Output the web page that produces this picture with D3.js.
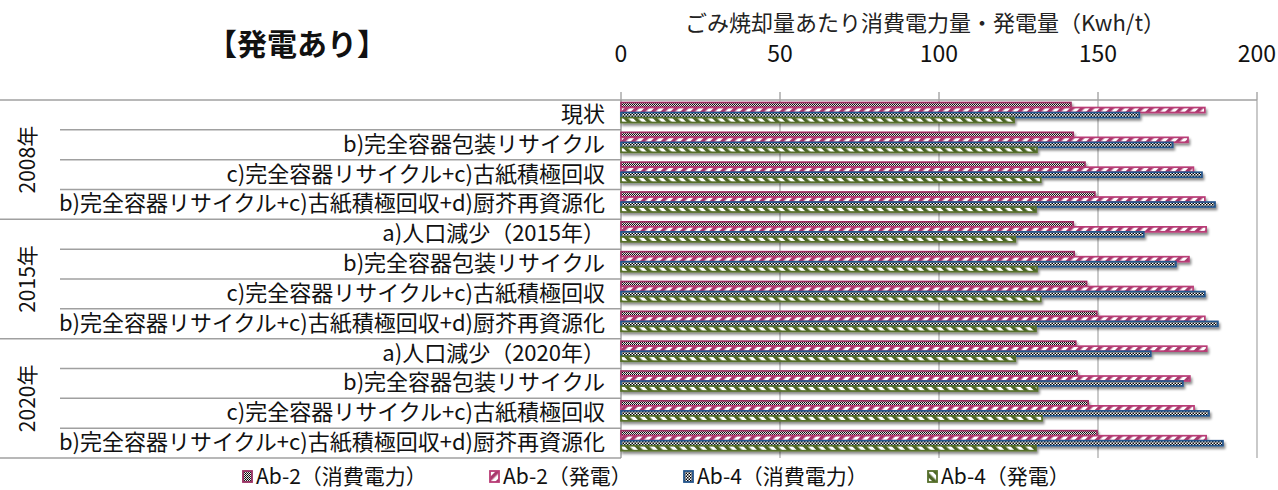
<!DOCTYPE html>
<html>
<head>
<meta charset="utf-8">
<script src="https://cdnjs.cloudflare.com/ajax/libs/d3/7.8.5/d3.min.js"></script>
<style>
  html, body { margin: 0; padding: 0; background: #fff; }
  svg { display: block; font-family: "Noto Sans CJK JP", "Noto Sans", sans-serif; }
</style>
</head>
<body>
<svg id="chart" width="1278" height="490"></svg>
<script>
// ---- data ----
const categories = [
  "現状",
  "b)完全容器包装リサイクル",
  "c)完全容器リサイクル+c)古紙積極回収",
  "b)完全容器リサイクル+c)古紙積極回収+d)厨芥再資源化",
  "a)人口減少（2015年）",
  "b)完全容器包装リサイクル",
  "c)完全容器リサイクル+c)古紙積極回収",
  "b)完全容器リサイクル+c)古紙積極回収+d)厨芥再資源化",
  "a)人口減少（2020年）",
  "b)完全容器包装リサイクル",
  "c)完全容器リサイクル+c)古紙積極回収",
  "b)完全容器リサイクル+c)古紙積極回収+d)厨芥再資源化"
];
const years = ["2008年", "2015年", "2020年"];
const seriesNames = ["Ab-2（消費電力）", "Ab-2（発電）", "Ab-4（消費電力）", "Ab-4（発電）"];
const ab2Consumption = [141.5, 142.2, 145.9, 149.0, 142.2, 142.5, 146.4, 149.6, 143.0, 143.4, 146.9, 149.7];
const ab2Generation  = [183.6, 178.3, 180.0, 183.6, 184.0, 178.6, 179.9, 183.6, 184.2, 178.9, 180.2, 184.0];
const ab4Consumption = [163.0, 173.5, 182.7, 186.8, 164.4, 174.5, 183.6, 187.7, 166.6, 176.7, 184.9, 189.3];
const ab4Generation  = [123.6, 130.8, 132.0, 130.5, 124.0, 130.8, 132.0, 130.5, 124.0, 131.0, 132.4, 130.5];
const tickValues = [0, 50, 100, 150, 200];
const axisTitle = "ごみ焼却量あたり消費電力量・発電量（Kwh/t）";
const chartTitle = "【発電あり】";

const seriesValues = [ab2Consumption, ab2Generation, ab4Consumption, ab4Generation];

// ---- layout ----
const svg = d3.select("#chart");
const plotLeft = 621, plotRight = 1257, plotTop = 100, plotBottom = 458;

const x = d3.scaleLinear().domain([0, 200]).range([plotLeft, plotRight]);
const y = d3.scaleBand().domain(d3.range(categories.length)).range([plotTop, plotBottom]);
const ySub = d3.scaleBand().domain(d3.range(seriesNames.length)).range([2.5, 22.5]).paddingInner(0.02);

// ---- patterns ----
const defs = svg.append("defs");
const stroke = ["#9a2f62", "#b93c76", "#24558c", "#566f2b"];

// fine dot pattern (Ab-2 consumption)
const p0 = defs.append("pattern").attr("id", "pat0").attr("patternUnits", "userSpaceOnUse")
  .attr("width", 2).attr("height", 2);
p0.append("rect").attr("width", 2).attr("height", 2).attr("fill", "#e8e8e8");
p0.append("rect").attr("width", 1).attr("height", 1).attr("fill", "#000");
p0.append("rect").attr("x", 1).attr("y", 1).attr("width", 1).attr("height", 1).attr("fill", "#222");

// forward diagonal (Ab-2 generation)
const p1 = defs.append("pattern").attr("id", "pat1").attr("patternUnits", "userSpaceOnUse")
  .attr("width", 7).attr("height", 7).attr("patternTransform", "rotate(45)");
p1.append("rect").attr("width", 7).attr("height", 7).attr("fill", "#ffffff");
p1.append("rect").attr("width", 3.5).attr("height", 7).attr("fill", "#a8386c");

// checker (Ab-4 consumption)
const p2 = defs.append("pattern").attr("id", "pat2").attr("patternUnits", "userSpaceOnUse")
  .attr("width", 3).attr("height", 3);
p2.append("rect").attr("width", 3).attr("height", 3).attr("fill", "#ffffff");
p2.append("rect").attr("width", 1.5).attr("height", 1.5).attr("fill", "#000");
p2.append("rect").attr("x", 1.5).attr("y", 1.5).attr("width", 1.5).attr("height", 1.5).attr("fill", "#000");

// backward diagonal (Ab-4 generation)
const p3 = defs.append("pattern").attr("id", "pat3").attr("patternUnits", "userSpaceOnUse")
  .attr("width", 7).attr("height", 7).attr("patternTransform", "rotate(-45)");
p3.append("rect").attr("width", 7).attr("height", 7).attr("fill", "#ffffff");
p3.append("rect").attr("width", 3.5).attr("height", 7).attr("fill", "#4c6425");

// soft drop shadow under bars
const f = defs.append("filter").attr("id", "shadow").attr("x", "-5%").attr("y", "-100%")
  .attr("width", "110%").attr("height", "300%");
f.append("feDropShadow").attr("dx", 1.5).attr("dy", 2.5).attr("stdDeviation", 1)
  .attr("flood-color", "#000").attr("flood-opacity", 0.45);

// ---- titles ----
svg.append("text").attr("x", 297).attr("y", 55).attr("text-anchor", "middle")
  .attr("font-size", 30).attr("font-weight", "bold").attr("fill", "#111").text(chartTitle);

svg.append("text").attr("x", 925).attr("y", 31).attr("text-anchor", "middle")
  .attr("font-size", 22).attr("fill", "#222").text(axisTitle);

// ---- value axis (top) ----
svg.append("g").selectAll("text").data(tickValues).join("text")
  .attr("x", d => x(d)).attr("y", 62).attr("text-anchor", "middle")
  .attr("font-size", 23).attr("fill", "#111").text(d => d);

svg.append("g").selectAll("line").data(tickValues).join("line")
  .attr("x1", d => x(d)).attr("x2", d => x(d)).attr("y1", 92).attr("y2", plotTop)
  .attr("stroke", "#808080").attr("stroke-width", 1);

// gridlines
svg.append("g").selectAll("line").data(tickValues.slice(1)).join("line")
  .attr("x1", d => x(d)).attr("x2", d => x(d)).attr("y1", plotTop).attr("y2", plotBottom)
  .attr("stroke", "#a6a6a6").attr("stroke-width", 1.2);

// top border of the plot
svg.append("line").attr("x1", 0).attr("x2", plotRight).attr("y1", plotTop).attr("y2", plotTop)
  .attr("stroke", "#a0a0a0").attr("stroke-width", 1.5);

// ---- category separators ----
const sepG = svg.append("g");
d3.range(1, categories.length + 1).forEach(i => {
  const yy = y(i - 1) + y.bandwidth();
  const groupEdge = i % 4 === 0;
  sepG.append("line").attr("x1", groupEdge ? 0 : 60).attr("x2", plotLeft)
    .attr("y1", yy).attr("y2", yy).attr("stroke", "#a0a0a0").attr("stroke-width", 1.5);
});
svg.append("line").attr("x1", plotLeft).attr("x2", plotLeft).attr("y1", plotTop).attr("y2", plotBottom)
  .attr("stroke", "#8c8c8c").attr("stroke-width", 1.2);

// category labels
svg.append("g").selectAll("text").data(categories).join("text")
  .attr("x", 605).attr("y", (d, i) => y(i) + y.bandwidth() / 2 + 7)
  .attr("text-anchor", "end").attr("font-size", 22).attr("fill", "#111").text(d => d);

// year labels
svg.append("g").selectAll("text").data(years).join("text")
  .attr("transform", (d, i) => {
    const cy = (y(i * 4) + y(i * 4 + 3) + y.bandwidth()) / 2;
    return `translate(35,${cy}) rotate(-90)`;
  })
  .attr("text-anchor", "middle").attr("font-size", 21).attr("fill", "#111").text(d => d);

// ---- bars ----
const barG = svg.append("g").attr("filter", "url(#shadow)");
seriesValues.forEach((vals, s) => {
  barG.append("g").selectAll("rect").data(vals).join("rect")
    .attr("x", x(0))
    .attr("y", (d, i) => y(i) + ySub(s))
    .attr("width", d => x(d) - x(0))
    .attr("height", ySub.bandwidth())
    .attr("fill", `url(#pat${s})`)
    .attr("stroke", stroke[s]).attr("stroke-width", 1.7);
});

// ---- legend ----
const legendX = [243, 490, 684, 928];
const lg = svg.append("g").selectAll("g").data(seriesNames).join("g")
  .attr("transform", (d, i) => `translate(${legendX[i]},477)`);
lg.append("rect").attr("x", 0).attr("y", -6).attr("width", 9).attr("height", 11)
  .attr("fill", (d, i) => `url(#pat${i})`).attr("stroke", (d, i) => stroke[i]).attr("stroke-width", 1.8);
lg.append("text").attr("x", 13).attr("y", 7).attr("font-size", 21).attr("fill", "#111").text(d => d);
</script>
</body>
</html>
